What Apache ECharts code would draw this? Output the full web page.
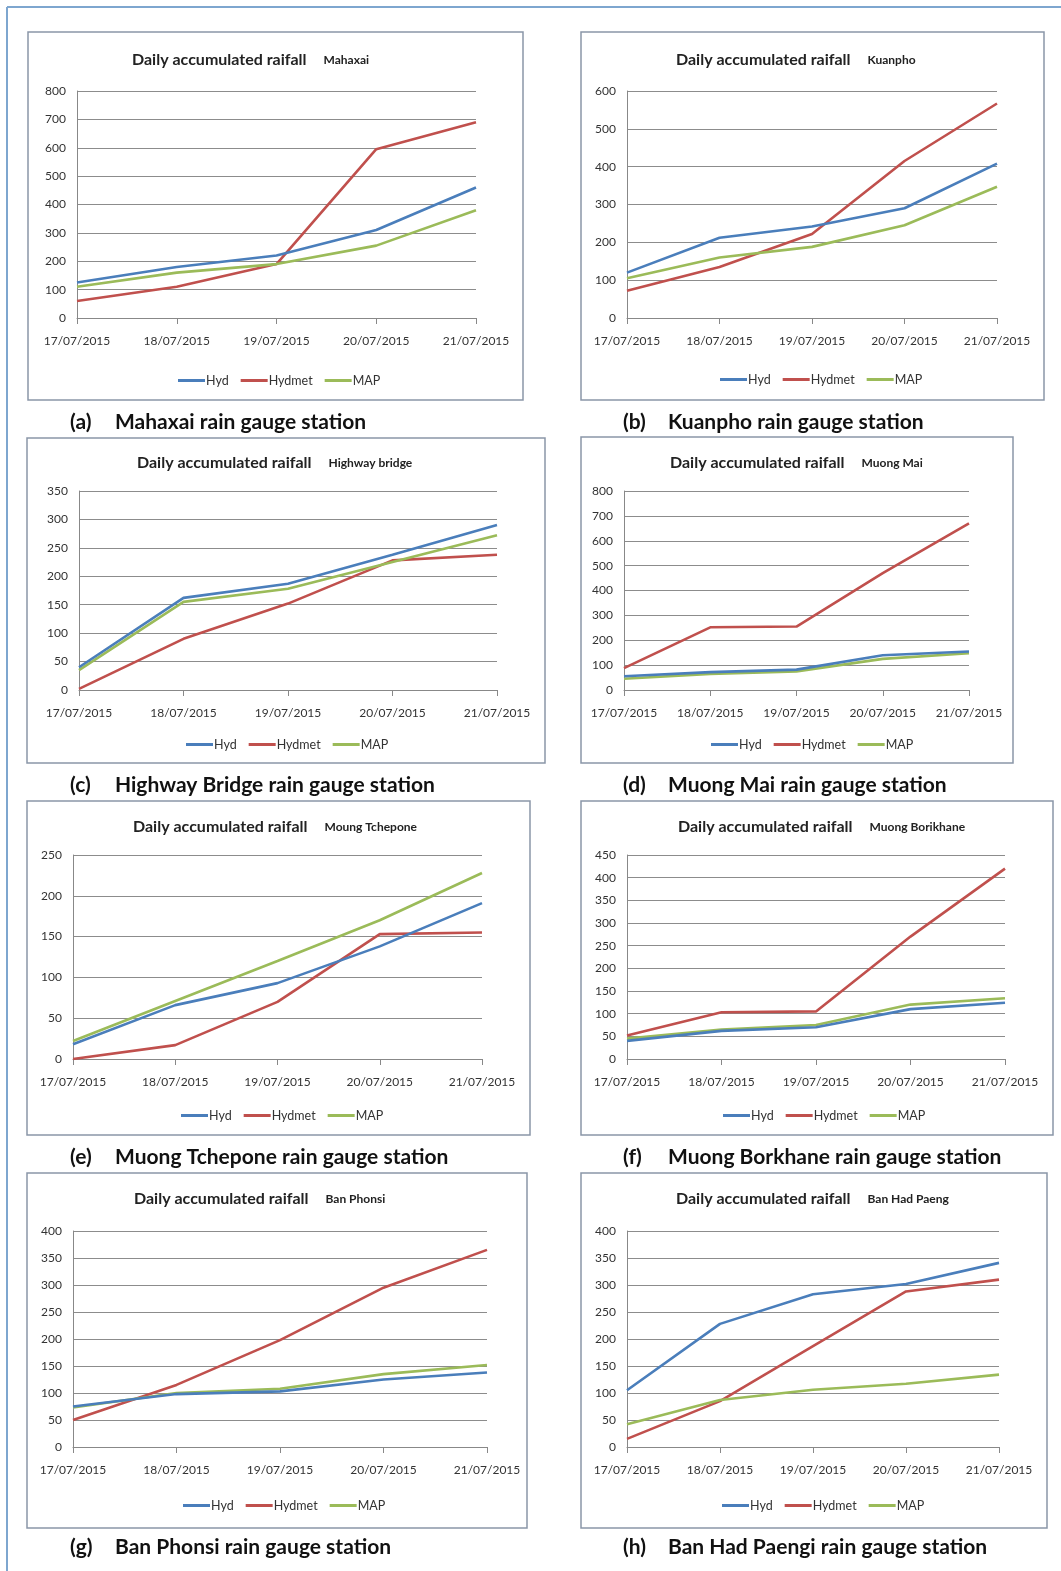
<!DOCTYPE html>
<html><head><meta charset="utf-8">
<script src="https://cdn.jsdelivr.net/npm/echarts@6/dist/echarts.min.js"></script>
<style>html,body{margin:0;padding:0;background:#fff}#c{width:1061px;height:1571px}</style>
</head><body><div id="c"></div>
<script>
// ---- data ----
const categories = ['17/07/2015','18/07/2015','19/07/2015','20/07/2015','21/07/2015'];
const seriesNames = ['Hyd','Hydmet','MAP'];
const stationNames = ['Mahaxai','Kuanpho','Highway bridge','Muong Mai','Moung Tchepone','Muong Borikhane','Ban Phonsi','Ban Had Paeng'];
const captions = ['Mahaxai rain gauge station','Kuanpho rain gauge station','Highway Bridge rain gauge station','Muong Mai rain gauge station','Muong Tchepone rain gauge station','Muong Borkhane rain gauge station','Ban Phonsi rain gauge station','Ban Had Paengi rain gauge station'];
const captionLetters = ['(a)','(b)','(c)','(d)','(e)','(f)','(g)','(h)'];
const yMax = [800,600,350,800,250,450,400,400];
const yInterval = [100,100,50,100,50,50,50,50];

const mahaxaiHyd    = [125,180,220,310,460];
const mahaxaiHydmet = [60,110,190,595,690];
const mahaxaiMAP    = [110,160,190,255,380];

const kuanphoHyd    = [120,212,242,290,408];
const kuanphoHydmet = [72,135,222,415,567];
const kuanphoMAP    = [105,160,188,245,347];

const highwayHyd    = [40,162,187,238,290];
const highwayHydmet = [2,90,152,228,238];
const highwayMAP    = [35,155,178,225,272];

const muongMaiHyd    = [55,72,82,140,155];
const muongMaiHydmet = [88,252,255,470,670];
const muongMaiMAP    = [45,65,75,125,148];

const tcheponeHyd    = [18,66,93,138,191];
const tcheponeHydmet = [0,17,70,153,155];
const tcheponeMAP    = [22,71,120,170,228];

const borikhaneHyd    = [40,62,70,110,124];
const borikhaneHydmet = [52,103,105,270,420];
const borikhaneMAP    = [45,65,75,120,134];

const phonsiHyd    = [75,98,103,125,138];
const phonsiHydmet = [50,115,198,295,365];
const phonsiMAP    = [73,100,108,135,152];

const hadPaengHyd    = [105,228,283,302,341];
const hadPaengHydmet = [15,85,187,288,310];
const hadPaengMAP    = [42,87,106,117,134];

const stationData = [
  [mahaxaiHyd, mahaxaiHydmet, mahaxaiMAP],
  [kuanphoHyd, kuanphoHydmet, kuanphoMAP],
  [highwayHyd, highwayHydmet, highwayMAP],
  [muongMaiHyd, muongMaiHydmet, muongMaiMAP],
  [tcheponeHyd, tcheponeHydmet, tcheponeMAP],
  [borikhaneHyd, borikhaneHydmet, borikhaneMAP],
  [phonsiHyd, phonsiHydmet, phonsiMAP],
  [hadPaengHyd, hadPaengHydmet, hadPaengMAP]
];

// ---- layout ----
const W = 1061;
const colors = ['#4A7EBB','#C0504D','#9BBB59'];
const FONT = 'Lato, "Noto Sans", sans-serif';
const plots = [
  [77,91,476,318],[627,91,997,318],
  [79,491,497,690],[624,491,969,690],
  [73,855,482,1059],[627,855,1005,1059],
  [73,1231,487,1447],[627,1231,999,1447]
];
const boxes = [
  [28,32,523,400],[581,32,1044,400],
  [27,438,545,763],[581,437,1013,763],
  [27,801,530,1135],[581,801,1053,1135],
  [27,1173,527,1528],[581,1173,1047,1528]
];
const titlePos = [[132,59],[676,59],[137,462],[670,462],[133,826],[678,826],[134,1198],[676,1198]];
const legendPos = [[173,376],[715,375],[181,740],[706,740],[176,1111],[718,1111],[178,1501],[717,1501]];
const captionPos = [[70,422],[623,422],[70,785],[623,785],[70,1157],[623,1157],[70,1547],[623,1547]];

const grids=[], xAxes=[], yAxes=[], series=[], titles=[], legends=[], graphics=[];

for (let i=0;i<8;i++){
  const p = plots[i];
  grids.push({left:p[0], top:p[1], width:p[2]-p[0], height:p[3]-p[1], containLabel:false});
  xAxes.push({type:'category', gridIndex:i, data:categories, boundaryGap:false,
    axisLine:{show:true, lineStyle:{color:'#888', width:1}},
    axisTick:{show:true, length:6, lineStyle:{color:'#888'}},
    axisLabel:{color:'#333', fontFamily:FONT, fontSize:12, margin:17, interval:0},
    splitLine:{show:false}});
  yAxes.push({type:'value', gridIndex:i, min:0, max:yMax[i], interval:yInterval[i],
    axisLine:{show:true, lineStyle:{color:'#888', width:1}},
    axisTick:{show:false},
    axisLabel:{color:'#333', fontFamily:FONT, fontSize:12, margin:11},
    splitLine:{show:true, lineStyle:{color:'#8c8c8c', width:1}}});
  for (let s=0;s<3;s++){
    series.push({type:'line', name:seriesNames[s], xAxisIndex:i, yAxisIndex:i,
      data:stationData[i][s], symbol:'none', smooth:false,
      lineStyle:{color:colors[s], width:2.6}, itemStyle:{color:colors[s]}, z:3+ (s===0?1:0)});
  }
  titles.push({left:titlePos[i][0], top:titlePos[i][1]-12, padding:[5,0,5,0],
    text:'{a|Daily accumulated raifall}{s| }{b|'+stationNames[i]+'}',
    textStyle:{rich:{
      a:{fontFamily:FONT, fontSize:16, fontWeight:'bold', color:'#222'},
      s:{width:17, fontSize:12},
      b:{fontFamily:FONT, fontSize:12, fontWeight:'bold', color:'#222'}}}});
  legends.push({left:legendPos[i][0], top:legendPos[i][1]-7, data:seriesNames,
    icon:'rect', itemWidth:27, itemHeight:3, itemGap:12,
    textStyle:{fontFamily:FONT, fontSize:12.5, color:'#333', padding:[0,0,0,-4]}});
  const b = boxes[i];
  graphics.push({type:'rect', shape:{x:b[0], y:b[1], width:b[2]-b[0], height:b[3]-b[1]},
    style:{fill:'none', stroke:'#8a96a8', lineWidth:1.5}, z:-1});
  graphics.push({type:'text', x:captionPos[i][0], y:captionPos[i][1],
    style:{text:captionLetters[i], font:'bold 21px '+FONT, fill:'#111', textVerticalAlign:'middle'}});
  graphics.push({type:'text', x:captionPos[i][0]+45, y:captionPos[i][1],
    style:{text:captions[i], font:'bold 21px '+FONT, fill:'#111', textVerticalAlign:'middle'}});
}
// outer frame
graphics.push({type:'line', shape:{x1:7,y1:7,x2:W,y2:7}, style:{stroke:'#7ea6cf', lineWidth:2}});
graphics.push({type:'line', shape:{x1:7,y1:7,x2:7,y2:1571}, style:{stroke:'#7ea6cf', lineWidth:2}});

const chart = echarts.init(document.getElementById('c'), null, {renderer:'canvas'});
chart.setOption({
  animation:false, backgroundColor:'#fff',
  title:titles, legend:legends, grid:grids, xAxis:xAxes, yAxis:yAxes, series:series,
  graphic:{elements:graphics}
});
</script></body></html>
